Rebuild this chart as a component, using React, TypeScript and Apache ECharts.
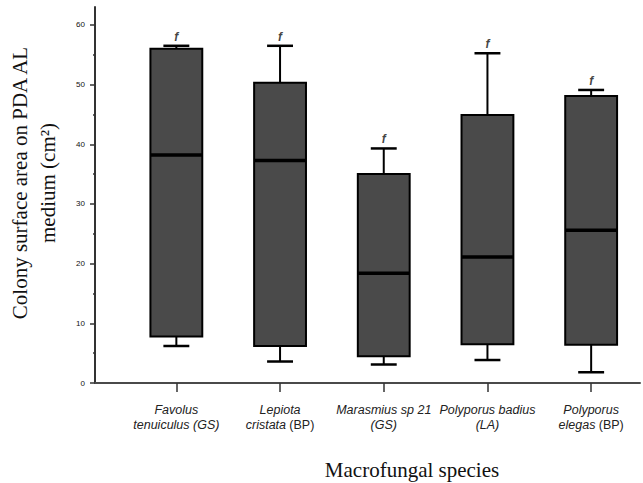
import React, { useEffect, useRef } from "react";
import * as echarts from "echarts";

// Data
const categories = [
  "Favolus tenuiculus (GS)",
  "Lepiota cristata (BP)",
  "Marasmius sp 21 (GS)",
  "Polyporus badius (LA)",
  "Polyporus elegas (BP)",
];
const categoryLabels = [
  "{i|Favolus}\n{i|tenuiculus (GS)}",
  "{i|Lepiota}\n{i|cristata} {n|(BP)}",
  "{i|Marasmius sp 21}\n{i|(GS)}",
  "{i|Polyporus badius}\n{i|(LA)}",
  "{i|Polyporus}\n{i|elegas} {n|(BP)}",
];
const whiskerLow = [6.2, 3.6, 3.1, 3.85, 1.8];
const quartile1 = [7.8, 6.2, 4.5, 6.5, 6.4];
const medians = [38.2, 37.3, 18.4, 21.1, 25.6];
const quartile3 = [56.0, 50.3, 35.0, 44.9, 48.1];
const whiskerHigh = [56.5, 56.5, 39.3, 55.25, 49.1];
const groupLetters = ["f", "f", "f", "f", "f"];
const yMajorTicks = [0, 10, 20, 30, 40, 50, 60];
const yMinorTicks = [5, 15, 25, 35, 45, 55];
const yTitle = "Colony surface area on PDA AL\nmedium (cm\u00B2)";
const xTitle = "Macrofungal species";

export default function App() {
  const ref = useRef<HTMLDivElement>(null);

  useEffect(() => {
    if (!ref.current) return;
    const chart = echarts.init(ref.current, null, { renderer: "svg" });

    const boxData = categories.map((_, i) => [
      i,
      whiskerLow[i],
      quartile1[i],
      medians[i],
      quartile3[i],
      whiskerHigh[i],
    ]);

    const option: any = {
      animation: false,
      backgroundColor: "#ffffff",
      grid: [
        { left: 95, right: 3, top: 7, bottom: 100 },
        { left: 124.5, width: 535, top: 7, bottom: 100 },
      ],
      xAxis: [
        {
          gridIndex: 0,
          type: "value",
          min: 0,
          max: 1,
          axisLine: { show: true, lineStyle: { color: "#4a4a4a", width: 2 } },
          axisTick: { show: false },
          axisLabel: { show: false },
          splitLine: { show: false },
        },
        {
          gridIndex: 1,
          type: "category",
          data: categories,
          boundaryGap: true,
          axisLine: { show: false },
          axisTick: {
            show: true,
            alignWithLabel: true,
            interval: 0,
            length: 9,
            lineStyle: { color: "#333", width: 1.5 },
          },
          axisLabel: {
            interval: 0,
            margin: 19,
            formatter: (_v: string, idx: number) => categoryLabels[idx],
            rich: {
              i: {
                fontFamily: "Liberation Sans",
                fontStyle: "italic",
                fontSize: 12.5,
                lineHeight: 15,
                color: "#222",
              },
              n: {
                fontFamily: "Liberation Sans",
                fontSize: 12.5,
                lineHeight: 15,
                color: "#222",
              },
            },
          },
          splitLine: { show: false },
        },
      ],
      yAxis: [
        {
          gridIndex: 0,
          type: "value",
          min: 0,
          max: 63,
          interval: 10,
          axisLine: { show: true, lineStyle: { color: "#333", width: 2 } },
          axisTick: {
            show: true,
            customValues: yMajorTicks,
            length: 5,
            lineStyle: { color: "#333", width: 1.5 },
          },
          axisLabel: {
            customValues: yMajorTicks,
            margin: 10,
            fontFamily: "Liberation Sans",
            fontSize: 8,
            color: "#111",
          },
          splitLine: { show: false },
        },
        {
          gridIndex: 1,
          type: "value",
          min: 0,
          max: 63,
          offset: 29.5,
          axisLine: { show: false },
          axisTick: {
            show: true,
            customValues: yMinorTicks,
            length: 2,
            lineStyle: { color: "#333", width: 1.5 },
          },
          axisLabel: { show: false },
          splitLine: { show: false },
        },
      ],
      series: [
        {
          type: "custom",
          xAxisIndex: 1,
          yAxisIndex: 1,
          data: boxData,
          encode: { x: 0, y: [1, 2, 3, 4, 5] },
          renderItem: (params: any, api: any) => {
            const idx = api.value(0);
            const lo = api.coord([idx, api.value(1)]);
            const q1 = api.coord([idx, api.value(2)]);
            const med = api.coord([idx, api.value(3)]);
            const q3 = api.coord([idx, api.value(4)]);
            const hi = api.coord([idx, api.value(5)]);
            const band = api.size([1, 0])[0];
            const bw = band * 0.5;
            const cw = band * 0.25;
            const cx = lo[0];
            const stroke = { stroke: "#000", lineWidth: 2 };
            return {
              type: "group",
              children: [
                {
                  type: "line",
                  shape: { x1: cx, y1: q3[1], x2: cx, y2: hi[1] },
                  style: stroke,
                },
                {
                  type: "line",
                  shape: { x1: cx, y1: q1[1], x2: cx, y2: lo[1] },
                  style: stroke,
                },
                {
                  type: "line",
                  shape: { x1: cx - cw / 2, y1: hi[1], x2: cx + cw / 2, y2: hi[1] },
                  style: { stroke: "#000", lineWidth: 2.5 },
                },
                {
                  type: "line",
                  shape: { x1: cx - cw / 2, y1: lo[1], x2: cx + cw / 2, y2: lo[1] },
                  style: { stroke: "#000", lineWidth: 2.5 },
                },
                {
                  type: "rect",
                  shape: { x: cx - bw / 2, y: q3[1], width: bw, height: q1[1] - q3[1] },
                  style: { fill: "#4a4a4a", stroke: "#000", lineWidth: 2 },
                },
                {
                  type: "line",
                  shape: { x1: cx - bw / 2, y1: med[1], x2: cx + bw / 2, y2: med[1] },
                  style: { stroke: "#000", lineWidth: 3.5 },
                },
              ],
            };
          },
        },
        {
          type: "scatter",
          xAxisIndex: 1,
          yAxisIndex: 1,
          symbolSize: 0,
          data: categories.map((_, i) => [i, whiskerHigh[i]]),
          label: {
            show: true,
            position: "top",
            distance: 3,
            formatter: (p: any) => groupLetters[p.dataIndex],
            fontFamily: "Liberation Sans",
            fontStyle: "italic",
            fontWeight: "bold",
            fontSize: 12,
            color: "#111",
          },
        },
      ],
      graphic: [
        {
          type: "text",
          x: 33.5,
          y: 183,
          rotation: Math.PI / 2,
          style: {
            text: yTitle,
            fontFamily: "Liberation Serif",
            fontSize: 21,
            lineHeight: 28,
            align: "center",
            verticalAlign: "middle",
            fill: "#111",
          },
        },
        {
          type: "text",
          x: 412,
          y: 470,
          style: {
            text: xTitle,
            fontFamily: "Liberation Serif",
            fontSize: 21,
            align: "center",
            verticalAlign: "middle",
            fill: "#111",
          },
        },
      ],
    };

    chart.setOption(option);
    return () => chart.dispose();
  }, []);

  return (
    <div
      ref={ref}
      style={{ position: "fixed", left: 0, top: 0, width: 643, height: 483 }}
    />
  );
}
